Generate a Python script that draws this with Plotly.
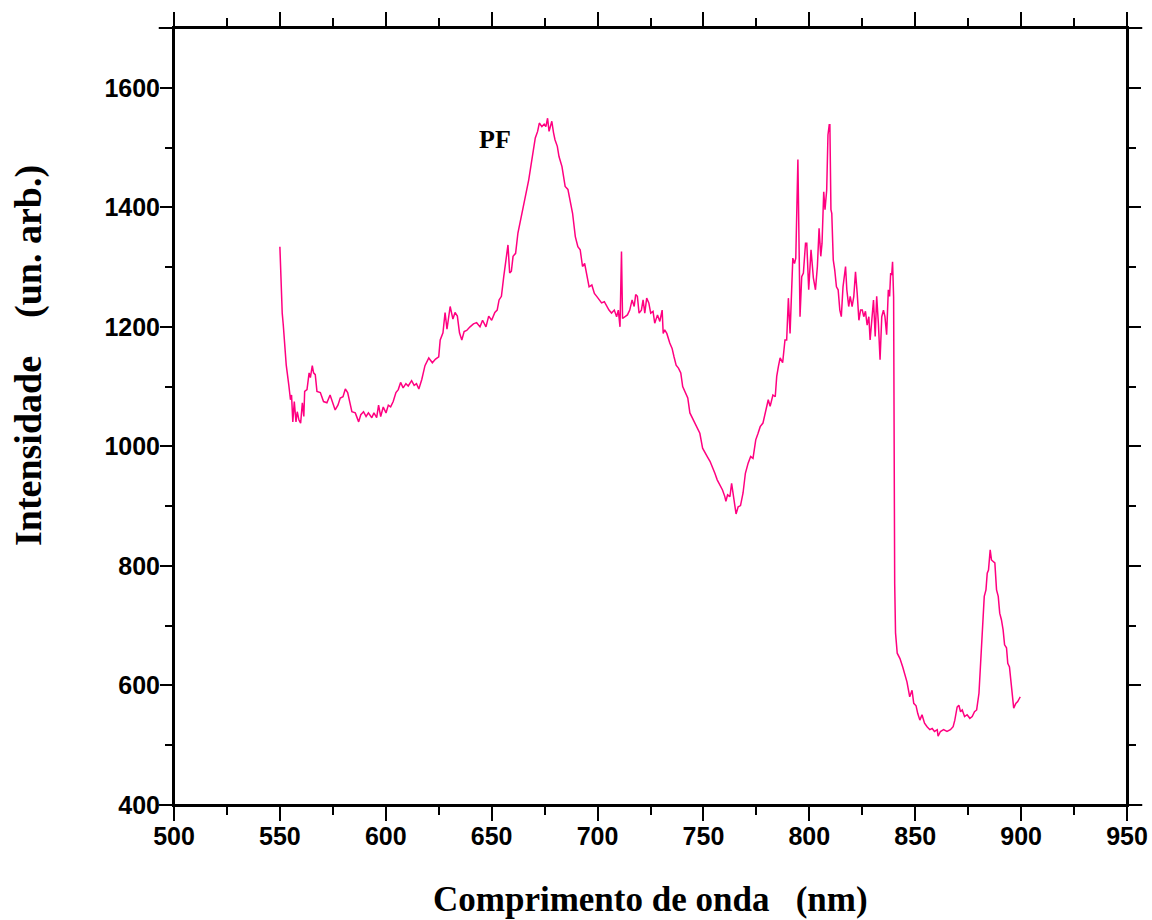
import plotly.graph_objects as go

wavelength = [
    550.0, 550.5, 551.1, 551.6, 552.2, 553.0, 554.2, 555.0, 555.5, 556.1, 556.8, 557.6, 558.2, 559.0, 559.8,
    560.6, 561.3, 561.7, 562.8, 563.8, 564.4, 565.3, 565.9, 566.7, 567.5, 569.1, 570.6, 572.2, 573.7,
    575.0, 576.1, 577.4, 578.5, 579.8, 580.9, 582.0, 583.0, 584.0, 585.6, 587.2, 588.2, 589.5, 590.7,
    591.8, 593.4, 594.4, 595.7, 596.6, 597.6, 598.8, 600.1, 601.2, 602.3, 603.5, 604.8, 605.9, 607.0,
    608.2, 609.5, 610.6, 612.2, 613.4, 614.5, 615.6, 617.0, 618.5, 620.3, 622.0, 623.5, 625.0, 625.7,
    627.0, 628.0, 628.9, 630.4, 631.7, 632.7, 633.8, 634.8, 635.9, 637.0, 638.2, 639.8, 641.4, 642.9,
    644.5, 645.7, 647.3, 648.6, 650.0, 651.5, 652.6, 653.5, 654.6, 655.7, 657.0, 657.7, 658.5, 659.3,
    660.1, 661.3, 662.4, 663.5, 664.7, 666.3, 667.5, 668.6, 669.7, 670.6, 671.7, 672.5, 673.7, 674.8,
    675.6, 676.4, 677.1, 678.4, 679.2, 679.9, 681.0, 681.8, 683.2, 684.7, 686.0, 687.1, 688.2, 689.5,
    690.7, 691.8, 692.9, 693.9, 694.9, 696.0, 697.3, 698.5, 699.6, 700.7, 701.9, 703.2, 704.3, 705.4,
    706.6, 707.9, 709.0, 709.8, 710.6, 711.0, 711.3, 711.8, 712.9, 714.1, 715.2, 716.3, 717.3, 718.0,
    718.8, 719.6, 720.7, 721.5, 722.3, 723.2, 724.2, 725.1, 726.2, 727.0, 728.3, 729.4, 730.5, 731.0,
    731.7, 732.7, 734.1, 735.2, 736.1, 737.1, 738.2, 739.3, 740.2, 741.5, 742.6, 743.6, 745.2, 746.8,
    748.3, 749.6, 750.7, 751.8, 753.1, 754.3, 755.4, 756.5, 757.8, 759.0, 760.1, 760.6, 761.4, 762.5,
    763.3, 764.0, 764.8, 765.4, 766.4, 767.5, 768.7, 769.8, 771.1, 772.3, 773.4, 774.7, 775.8, 776.8,
    778.1, 779.6, 780.6, 781.5, 782.8, 783.9, 784.6, 785.4, 786.2, 787.4, 788.5, 789.3, 790.1, 790.9,
    792.2, 793.0, 793.6, 794.6, 795.6, 796.4, 797.2, 798.2, 798.8, 799.7, 800.8, 801.9, 802.9, 803.8,
    804.6, 805.4, 806.0, 806.8, 807.4, 808.2, 808.8, 809.4, 809.7, 810.2, 810.6, 811.3, 812.0, 812.8,
    813.6, 814.4, 815.1, 815.9, 816.7, 817.1, 817.7, 818.6, 819.3, 820.2, 821.0, 821.8, 822.6, 823.4,
    824.2, 825.0, 825.7, 826.5, 827.3, 828.1, 828.7, 829.5, 830.3, 831.1, 831.8, 832.6, 833.4, 834.2,
    835.0, 835.7, 836.5, 837.3, 837.9, 838.4, 838.9, 839.3, 839.8, 840.3, 840.7, 841.5, 842.8, 844.1,
    845.3, 846.1, 847.4, 848.5, 849.3, 850.4, 851.2, 852.2, 853.2, 854.4, 855.6, 856.9, 858.0, 859.1,
    860.4, 860.8, 861.9, 863.4, 865.0, 866.6, 867.9, 868.7, 869.8, 870.6, 871.4, 872.2, 873.3, 874.5,
    875.8, 876.9, 878.0, 879.0, 880.1, 880.8, 881.8, 882.6, 883.4, 884.0, 884.6, 885.4, 886.0, 886.8,
    887.6, 888.4, 889.2, 889.9, 890.7, 891.5, 892.2, 893.1, 893.7, 894.5, 895.3, 895.9, 896.5, 897.5,
    898.4, 899.3, 899.6,
]

intensity = [
    1334, 1279, 1223, 1203, 1167, 1136, 1103, 1078, 1086, 1041, 1075, 1041, 1058, 1044, 1039,
    1073, 1050, 1092, 1095, 1123, 1115, 1135, 1123, 1120, 1092, 1090, 1075, 1073, 1086,
    1073, 1061, 1069, 1081, 1083, 1096, 1090, 1073, 1058, 1056, 1041, 1053, 1058, 1050,
    1056, 1048, 1056, 1048, 1069, 1050, 1066, 1056, 1069, 1066, 1075, 1090, 1095, 1107,
    1098, 1105, 1101, 1110, 1102, 1105, 1096, 1112, 1135, 1148, 1140, 1146, 1150, 1178,
    1190, 1224, 1196, 1234, 1213, 1224, 1218, 1190, 1178, 1192, 1194, 1200, 1205, 1207,
    1200, 1211, 1200, 1218, 1211, 1224, 1228, 1245, 1251, 1284, 1318, 1337, 1290, 1293,
    1318, 1323, 1357, 1376, 1396, 1424, 1446, 1471, 1496, 1516, 1527, 1541, 1535, 1539,
    1535, 1549, 1527, 1544, 1525, 1513, 1502, 1485, 1468, 1435, 1430, 1407, 1390, 1351,
    1334, 1329, 1301, 1306, 1284, 1267, 1270, 1256, 1251, 1245, 1240, 1242, 1234, 1228,
    1223, 1228, 1217, 1228, 1200, 1326, 1326, 1214, 1217, 1220, 1228, 1245, 1234, 1254,
    1251, 1223, 1228, 1245, 1223, 1248, 1240, 1223, 1226, 1206, 1220, 1209, 1228, 1189,
    1195, 1189, 1173, 1164, 1150, 1136, 1131, 1123, 1100, 1089, 1081, 1056, 1044, 1033,
    1022, 997, 991, 983, 975, 966, 955, 944, 936, 927, 916, 908, 919, 916,
    938, 919, 899, 887, 899, 901, 922, 955, 972, 983, 980, 1011, 1022, 1033,
    1039, 1061, 1078, 1067, 1086, 1083, 1117, 1134, 1148, 1140, 1178, 1178, 1248, 1189,
    1315, 1306, 1315, 1480, 1217, 1284, 1290, 1340, 1340, 1262, 1329, 1282, 1262, 1301,
    1365, 1318, 1340, 1426, 1396, 1429, 1521, 1538, 1538, 1396, 1390, 1312, 1295, 1267,
    1262, 1228, 1217, 1267, 1295, 1301, 1262, 1234, 1251, 1234, 1251, 1292, 1256, 1211,
    1228, 1228, 1217, 1226, 1203, 1217, 1178, 1217, 1245, 1184, 1251, 1206, 1145, 1217,
    1228, 1217, 1187, 1262, 1251, 1290, 1287, 1309, 1250, 771, 688, 654, 645, 631,
    615, 606, 581, 592, 570, 566, 553, 542, 551, 537, 531, 526, 528, 523,
    526, 515, 523, 526, 523, 526, 531, 542, 564, 567, 556, 559, 548, 551,
    545, 548, 556, 559, 587, 631, 687, 749, 760, 788, 793, 827, 810, 808,
    805, 760, 749, 721, 710, 693, 668, 663, 637, 631, 604, 581, 562, 570,
    573, 579, 581,
]

x_ticks = [500, 550, 600, 650, 700, 750, 800, 850, 900, 950]
y_ticks = [400, 600, 800, 1000, 1200, 1400, 1600]

fig = go.Figure()
fig.add_trace(go.Scatter(
    x=wavelength, y=intensity, mode="lines",
    line=dict(color="#FF0080", width=1.5), showlegend=False, hoverinfo="skip",
))

axis_common = dict(
    showgrid=False, zeroline=False, showline=True, linecolor="black", linewidth=2,
    mirror="ticks", ticks="outside", tickwidth=2, tickcolor="black", automargin=False,
    tickfont=dict(family="Liberation Sans, Arial, sans-serif", size=25, color="black", weight="bold"),
)

serif = "Liberation Serif, Times New Roman, serif"

fig.update_xaxes(
    range=[500, 950], tickvals=x_ticks, ticktext=[str(v) for v in x_ticks],
    ticklen=14, ticklabelstandoff=-6,
    minor=dict(dtick=25, ticks="outside", ticklen=8, tickwidth=2, tickcolor="black"),
    **axis_common,
)
fig.update_yaxes(
    range=[400, 1700], tickvals=y_ticks, ticktext=[str(v) for v in y_ticks],
    ticklen=12, ticklabelstandoff=-5,
    minor=dict(dtick=100, ticks="outside", ticklen=7, tickwidth=2, tickcolor="black"),
    **axis_common,
)

# axis titles
fig.add_annotation(
    x=0.5, y=-0.121, xref="paper", yref="paper", xanchor="center", yanchor="middle",
    text="Comprimento de onda   (nm)", showarrow=False,
    font=dict(family=serif, size=35, color="black", weight="bold"),
)
fig.add_annotation(
    x=-0.152, y=0.578, xref="paper", yref="paper", xanchor="center", yanchor="middle",
    text="Intensidade    (un. arb.)", showarrow=False, textangle=-90,
    font=dict(family=serif, size=38, color="black", weight="bold"),
)

fig.add_annotation(
    x=651.5, y=1513, text="PF", showarrow=False, xref="x", yref="y",
    font=dict(family=serif, size=26, color="black", weight="bold"),
)

# axis line extensions beyond the frame corners
ext = 0.016
exty = 0.02
for y0 in (0, 1):
    fig.add_shape(type="line", xref="paper", yref="paper", x0=-ext, x1=1 + ext, y0=y0, y1=y0,
                  line=dict(color="black", width=2))
for x0 in (0, 1):
    fig.add_shape(type="line", xref="paper", yref="paper", x0=x0, x1=x0, y0=-exty, y1=1 + exty,
                  line=dict(color="black", width=2))

fig.update_layout(
    width=1152, height=920,
    margin=dict(l=174, r=25, t=28, b=115),
    plot_bgcolor="white", paper_bgcolor="white",
)

fig.write_html("out.html")
